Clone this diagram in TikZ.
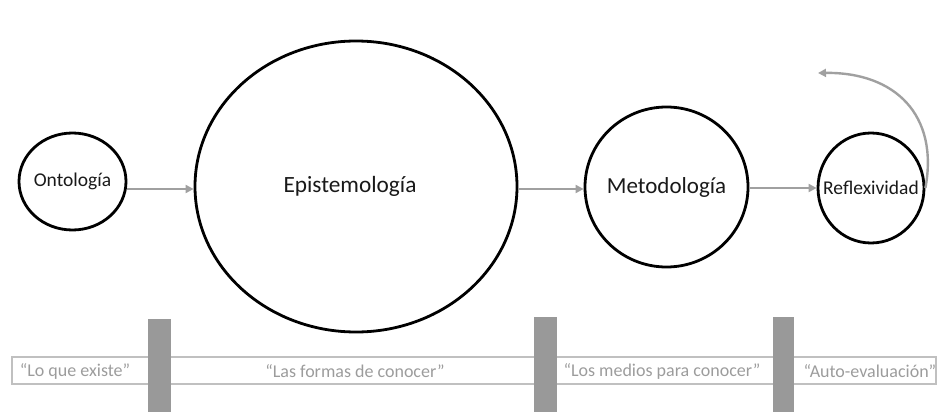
\documentclass[tikz,border=0pt]{standalone}
\usepackage{fontspec}
\setmainfont{Carlito}
\usetikzlibrary{shapes.geometric,arrows.meta}
\definecolor{arrowgray}{HTML}{A0A0A0}
\definecolor{bargray}{HTML}{999999}
\definecolor{boxgray}{HTML}{C0C0C0}
\definecolor{textgray}{HTML}{9C9C9C}
\tikzset{
  concept/.style={draw=black, line width=2.8pt, ellipse, inner sep=0pt, text=black!90},
  flow/.style={draw=arrowgray, line width=2.4pt, -{Triangle[length=8pt,width=8pt]}},
  bar/.style={fill=bargray, draw=none},
  band/.style={draw=boxgray, line width=1.3pt},
  quote/.style={text=textgray, font=\fontsize{18}{20}\selectfont, inner sep=0pt},
}
\begin{document}
\begin{tikzpicture}[x=1pt,y=-1pt]
\useasboundingbox (0,0) rectangle (937,412);
% concepts
\node[concept, minimum width=107pt, minimum height=97pt, font=\fontsize{19.5}{22}\selectfont] (onto) at (72.5,181.5) {\makebox[0pt]{Ontología}};
\node[concept, minimum width=322pt, minimum height=291pt, font=\fontsize{23.3}{26}\selectfont] (epis) at (356,186.5) {\makebox[0pt]{Epistemología\hspace*{12pt}}};
\node[concept, minimum width=163pt, minimum height=160pt, font=\fontsize{23}{26}\selectfont] (meto) at (666.5,187) {\makebox[0pt]{Metodología}};
\node[concept, minimum width=106pt, minimum height=110pt, font=\fontsize{19.5}{22}\selectfont] (refl) at (871,188) {\makebox[0pt]{Reflexividad}};
% connectors
\draw[flow] (onto.east |- 0,189) -- (epis.west |- 0,189);
\draw[flow] (epis.east |- 0,189) -- (meto.west |- 0,189);
\draw[flow] (meto.east |- 0,188) -- (refl.west |- 0,188);
\coordinate (loopend) at (818,73);
\draw[flow] (refl.east) .. controls (939,115) and (895,72) .. (loopend);
% bottom band
\draw[band] (12,357) rectangle (936,384);
\node[quote] (q1) at (75,371) {“Lo que existe”};
\node[quote] (q2) at (355,371) {“Las formas de conocer”};
\node[quote] (q3) at (662,371) {“Los medios para conocer”};
\node[quote] (q4) at (870,371) {“Auto-evaluación”};
\fill[bar] (148,319) rectangle (171,412);
\fill[bar] (534,317) rectangle (557,412);
\fill[bar] (773,317) rectangle (794,412);
\end{tikzpicture}
\end{document}
